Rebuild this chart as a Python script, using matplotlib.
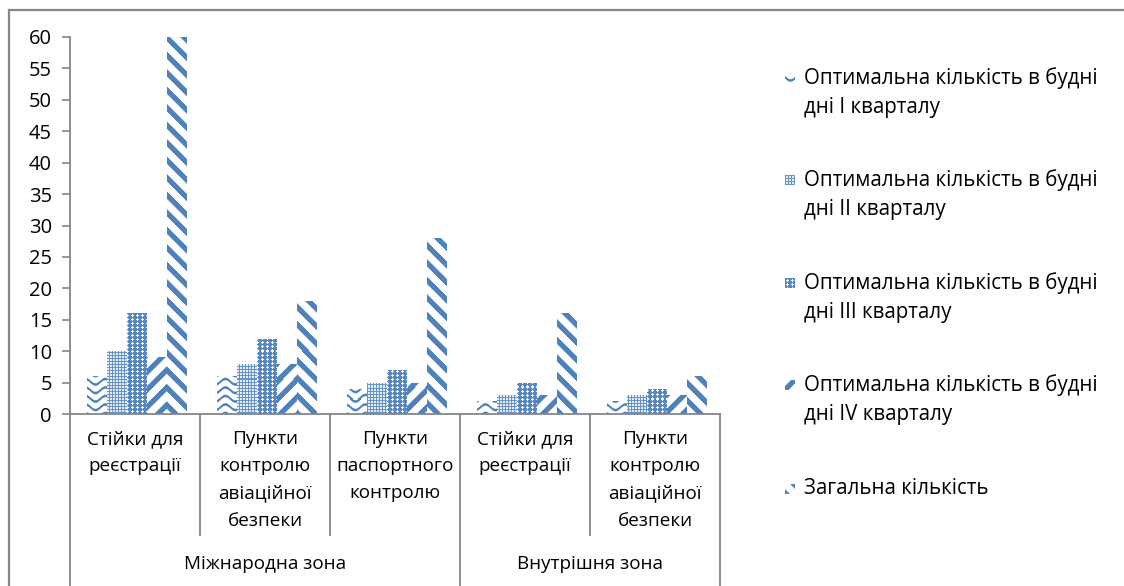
import numpy as np
import matplotlib
matplotlib.use("Agg")
import matplotlib.pyplot as plt
from matplotlib.lines import Line2D
from matplotlib import transforms

plt.rcParams['font.family'] = ['Open Sans', 'DejaVu Sans']

# --- data ---
categories = ["Стійки для\nреєстрації",
              "Пункти\nконтролю\nавіаційної\nбезпеки",
              "Пункти\nпаспортного\nконтролю",
              "Стійки для\nреєстрації",
              "Пункти\nконтролю\nавіаційної\nбезпеки"]
zones = ["Міжнародна зона", "Внутрішня зона"]
zone_sizes = [3, 2]

series_names = ["Оптимальна кількість в будні\nдні І кварталу",
                "Оптимальна кількість в будні\nдні ІІ кварталу",
                "Оптимальна кількість в будні\nдні ІІІ кварталу",
                "Оптимальна кількість в будні\nдні IV кварталу",
                "Загальна кількість"]
q1 = [6, 6, 4, 2, 2]
q2 = [10, 8, 5, 3, 3]
q3 = [16, 12, 7, 5, 4]
q4 = [9, 8, 5, 3, 3]
total = [60, 18, 28, 16, 6]
patterns = ["wave", "checker", "dotgrid", "updiag", "downdiag"]

BLUE = np.array([79, 129, 189]) / 255.0
GREY = "#868686"


def texture(kind, h, w):
    """RGBA pattern tile, h x w pixels, row 0 at the top."""
    r, c = np.mgrid[0:h, 0:w].astype(float)
    if kind == "wave":
        off = 2.8 * np.sin(2 * np.pi * c / 20.0)
        d = np.mod(r - off, 8.5)
        on = np.clip(1.8 - np.abs(d - 4.25), 0, 1)
    elif kind == "checker":
        on = np.where((np.mod(r, 3) == 0) | (np.mod(c, 3) == 0), 0.85, 0.15)
    elif kind == "dotgrid":
        white = (np.mod(c, 5) == 2) & (np.mod(r, 4) != 0)
        white |= (np.mod(r, 4) == 2) & (np.mod(c, 5) >= 1) & (np.mod(c, 5) <= 3)
        on = np.where(white, 0.05, 0.95)
    elif kind == "updiag":
        d = np.mod(c + r, 17.5)
        on = np.clip(4.2 - np.abs(d - 8.75), 0, 1)
    else:
        d = np.mod(c - r, 17.5)
        on = np.clip(4.2 - np.abs(d - 8.75), 0, 1)
    img = np.ones((h, w, 4))
    for k in range(3):
        img[..., k] = 1.0 - on * (1.0 - BLUE[k])
    return img


W, H = 1124, 586
fig = plt.figure(figsize=(W / 100, H / 100), dpi=100)
ax_l, ax_r, ax_t, ax_b = 70, 720, 37, 414
ax = fig.add_axes([ax_l / W, (H - ax_b) / H, (ax_r - ax_l) / W, (ax_b - ax_t) / H])

n_cat = len(categories)
x = np.arange(n_cat) + 0.5
bw = 20 / 130.0
values = [q1, q2, q3, q4, total]

for k, (vals, pat) in enumerate(zip(values, patterns)):
    bars = ax.bar(x + (k - 2) * bw + 0.012, vals, width=bw, facecolor="none",
                  edgecolor="none", zorder=2)
    tex = texture(pat, ax_b - ax_t, ax_r - ax_l)
    for b in bars:
        im = ax.imshow(tex, extent=(0, n_cat, 0, 60), origin="upper",
                       aspect="auto", interpolation="nearest", zorder=2)
        im.set_clip_path(b)

ax.set_xlim(0, n_cat)
ax.set_ylim(0, 60)
ax.set_yticks(range(0, 61, 5))
ax.tick_params(axis="y", length=6, width=1.2, color=GREY, labelsize=14.5, pad=7)
ax.set_xticks([])
for s in ["top", "right"]:
    ax.spines[s].set_visible(False)
for s in ["left", "bottom"]:
    ax.spines[s].set_color(GREY)
    ax.spines[s].set_linewidth(1.3)

# multi-level category axis
bt = transforms.blended_transform_factory(ax.transData, fig.transFigure)
y_axis = (H - ax_b) / H
y_lvl1 = (H - 535) / H
bounds = np.cumsum([0] + zone_sizes)
for i in range(n_cat + 1):
    y_end = 0.0 if i in bounds else y_lvl1
    fig.add_artist(Line2D([i, i], [y_axis, y_end], transform=bt, color=GREY, lw=1.3))
for i, lab in enumerate(categories):
    fig.text(x[i], (H - 430) / H, lab, transform=bt, ha="center", va="top",
             fontsize=13.6, linespacing=1.66)
for z, lab in enumerate(zones):
    cx = (bounds[z] + bounds[z + 1]) / 2
    fig.text(cx, (H - 564) / H, lab, transform=bt, ha="center", va="center",
             fontsize=13.6)

# chart border
fig.add_artist(Line2D([9 / W, 1], [(H - 10) / H] * 2, transform=fig.transFigure, color=GREY, lw=1.6))
fig.add_artist(Line2D([9 / W] * 2, [0, (H - 10) / H], transform=fig.transFigure, color=GREY, lw=1.6))

# legend
leg_y = [78, 180, 283, 385, 489]
for name, pat, yy in zip(series_names, patterns, leg_y):
    mk = fig.add_axes([785 / W, (H - yy - 5) / H, 10 / W, 10 / H])
    mk.imshow(texture(pat, 10, 10), interpolation="nearest", aspect="auto")
    mk.axis("off")
    fig.text(804 / W, (H - yy + 11) / H, name, ha="left", va="top",
             fontsize=14.8, linespacing=1.5)

fig.savefig("out.png", dpi=100)
